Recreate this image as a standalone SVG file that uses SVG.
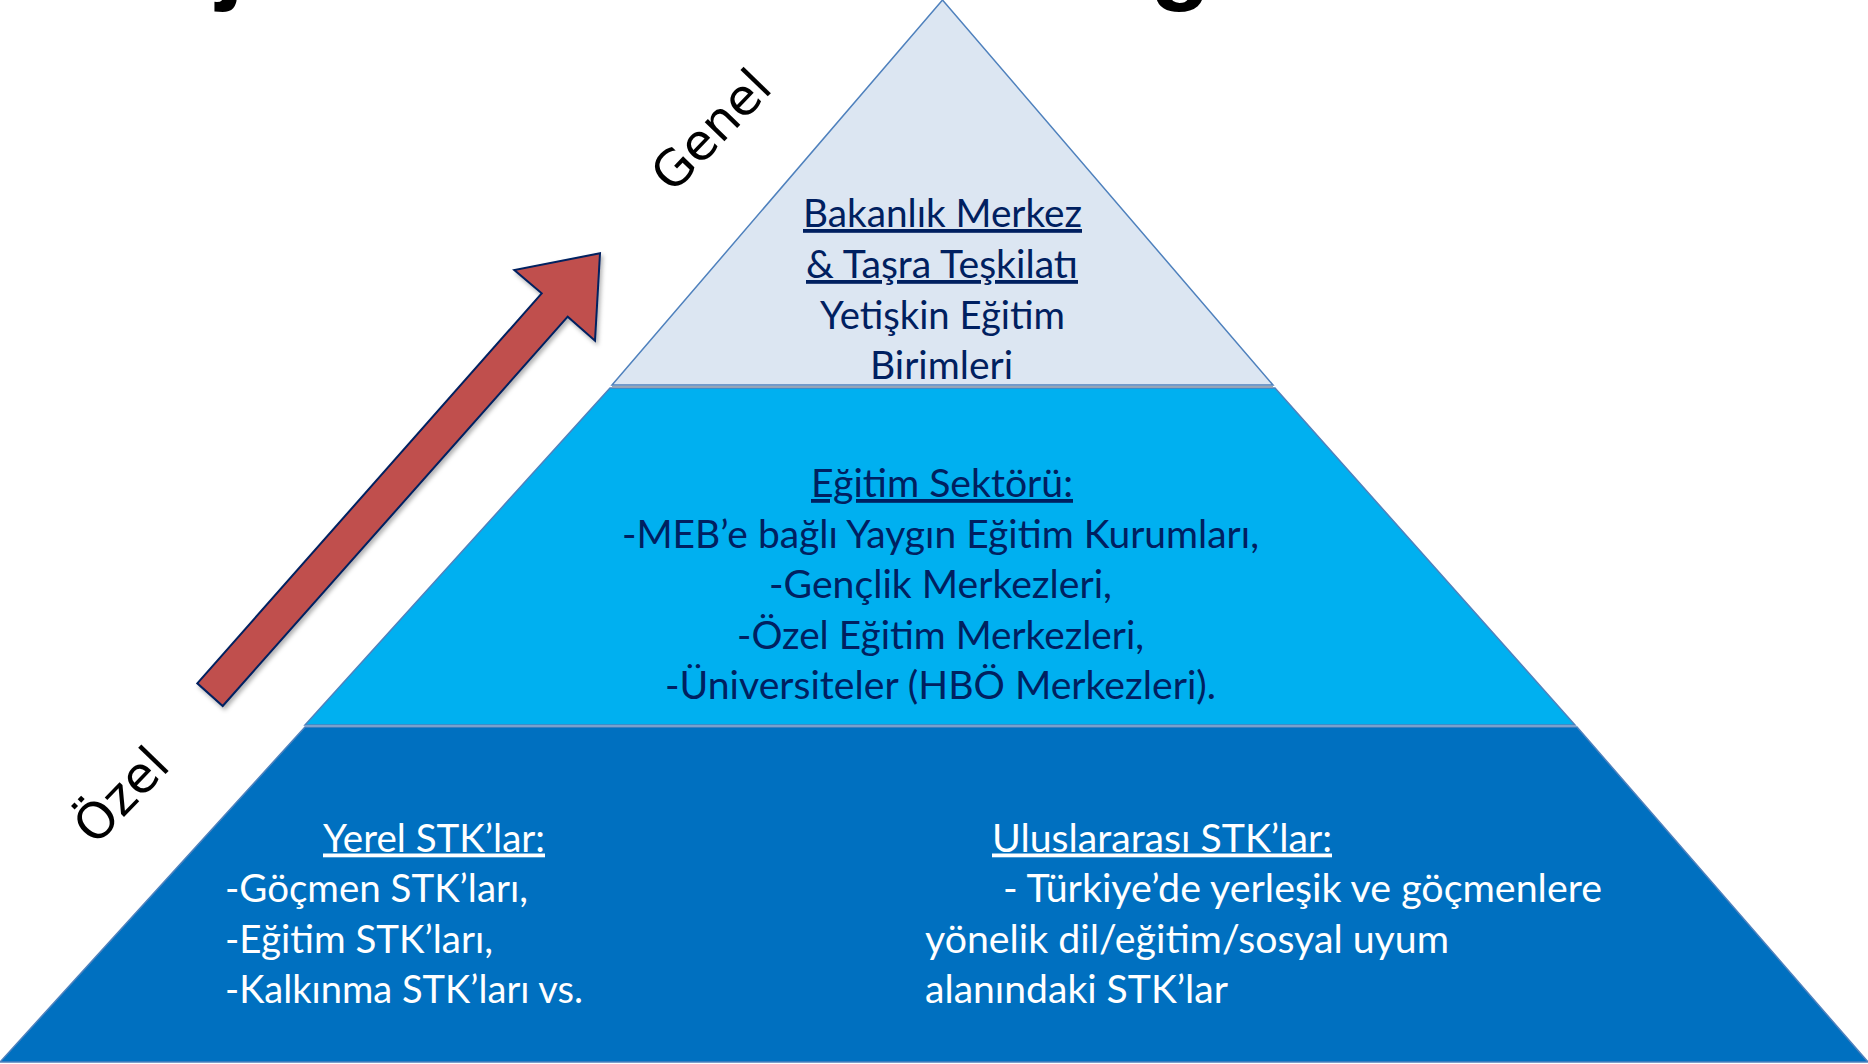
<svg xmlns="http://www.w3.org/2000/svg" width="1868" height="1064" viewBox="0 0 1868 1064">
<defs>
<style>
.t { font-family: Lato, "Open Sans", "Liberation Sans", sans-serif; font-size: 38px; }
.navy { fill: #002060; }
.white { fill: #FFFFFF; }
.u { text-decoration: underline; }
.mid { text-anchor: middle; }
.lbl { font-family: "DejaVu Sans", "Liberation Sans", sans-serif; font-size: 50px; fill: #000000; text-anchor: middle; }
.tier { stroke: #4F81BD; stroke-width: 1.5; }
.frag { font-family: "Liberation Sans", Arial, sans-serif; font-weight: bold; font-size: 100px; fill: #000000; }
</style>
<filter id="sh" x="-10%" y="-10%" width="130%" height="130%">
<feDropShadow dx="2" dy="3" stdDeviation="2" flood-color="#000000" flood-opacity="0.3"/>
</filter>
</defs>
<rect width="1868" height="1064" fill="#FFFFFF"/>

<g id="title-fragment">
<text class="frag" x="216" y="-9">j</text>
<text class="frag" x="1150" y="-9">g</text>
</g>

<g id="tier-bottom">
<polygon class="tier" points="305,727 1577,727 1868,1062 0,1062" fill="#0070C0"/>
<text class="t white u" x="323" y="851.5" textLength="222" lengthAdjust="spacingAndGlyphs">Yerel STK’lar:</text>
<text class="t white" x="225" y="902" textLength="303" lengthAdjust="spacingAndGlyphs">-Göçmen STK’ları,</text>
<text class="t white" x="225" y="952.5" textLength="268" lengthAdjust="spacingAndGlyphs">-Eğitim STK’ları,</text>
<text class="t white" x="225" y="1003" textLength="358" lengthAdjust="spacingAndGlyphs">-Kalkınma STK’ları vs.</text>
<text class="t white u" x="992" y="851.5" textLength="340" lengthAdjust="spacingAndGlyphs">Uluslararası STK’lar:</text>
<text class="t white" x="1003" y="902" textLength="599" lengthAdjust="spacingAndGlyphs">- Türkiye’de yerleşik ve göçmenlere</text>
<text class="t white" x="925" y="952.5" textLength="524" lengthAdjust="spacingAndGlyphs">yönelik dil/eğitim/sosyal uyum</text>
<text class="t white" x="925" y="1003" textLength="303" lengthAdjust="spacingAndGlyphs">alanındaki STK’lar</text>
</g>

<g id="tier-middle">
<polygon class="tier" points="610,388 1275,388 1575,725 305,725" fill="#00B0F0"/>
<text class="t navy u mid" x="942" y="497" textLength="262" lengthAdjust="spacingAndGlyphs">Eğitim Sektörü:</text>
<text class="t navy mid" x="940.5" y="547.5" textLength="637" lengthAdjust="spacingAndGlyphs">-MEB’e bağlı Yaygın Eğitim Kurumları,</text>
<text class="t navy mid" x="940.5" y="598" textLength="343" lengthAdjust="spacingAndGlyphs">-Gençlik Merkezleri,</text>
<text class="t navy mid" x="940.5" y="648.5" textLength="407" lengthAdjust="spacingAndGlyphs">-Özel Eğitim Merkezleri,</text>
<text class="t navy mid" x="940.5" y="699" textLength="551" lengthAdjust="spacingAndGlyphs">-Üniversiteler (HBÖ Merkezleri).</text>
</g>

<g id="tier-top">
<line x1="612" y1="386.8" x2="1273" y2="386.8" stroke="#9AA5B4" stroke-width="2"/>
<polygon class="tier" points="942.5,0 612,385 1273,385" fill="#DCE6F2"/>
<text class="t navy u mid" x="942.5" y="227" textLength="279" lengthAdjust="spacingAndGlyphs">Bakanlık Merkez</text>
<text class="t navy u mid" x="942" y="278" textLength="272" lengthAdjust="spacingAndGlyphs">&amp; Taşra Teşkilatı</text>
<text class="t navy mid" x="942.5" y="328.5" textLength="245" lengthAdjust="spacingAndGlyphs">Yetişkin Eğitim</text>
<text class="t navy mid" x="941.5" y="379" textLength="143" lengthAdjust="spacingAndGlyphs">Birimleri</text>
</g>

<g id="connectors">
<polygon points="197.3,683.3 541.7,293.3 514.3,270 600,253.3 595,340.7 567.7,316.7 222.7,706" fill="#C0504D" stroke="#002060" stroke-width="2" stroke-linejoin="miter" filter="url(#sh)"/>
</g>

<g id="label-genel">
<text class="lbl" transform="translate(712,131) rotate(-46)" x="0" y="16">Genel</text>
</g>
<g id="label-ozel">
<text class="lbl" transform="translate(122,796) rotate(-46)" x="0" y="16">Özel</text>
</g>
</svg>
